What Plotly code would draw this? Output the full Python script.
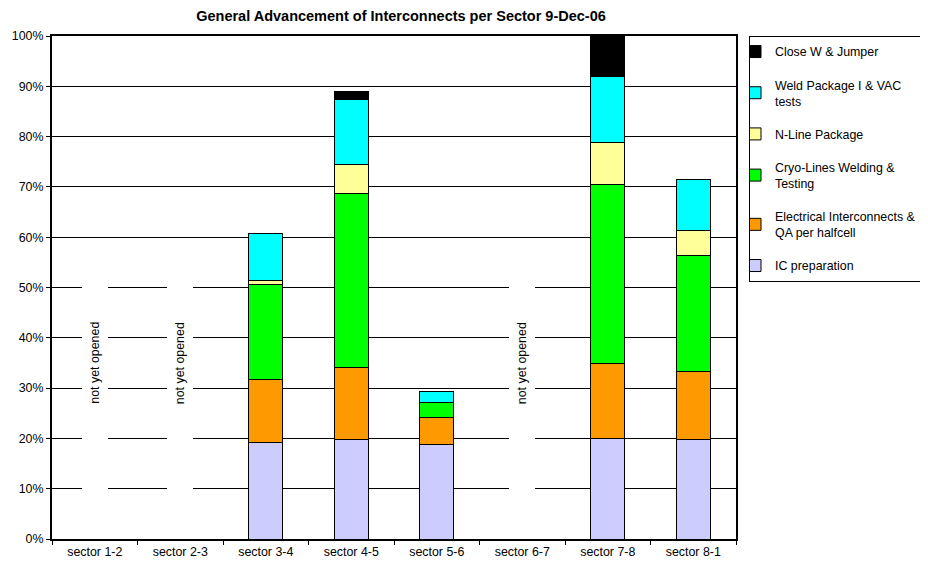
import plotly.graph_objects as go

sectors = ["sector 1-2", "sector 2-3", "sector 3-4", "sector 4-5",
           "sector 5-6", "sector 6-7", "sector 7-8", "sector 8-1"]

ic_prep = [None, None, 19.1, 19.7, 18.7, None, 19.9, 19.7]
elec_qa = [None, None, 12.7, 14.4, 5.4, None, 15.0, 13.7]
cryo = [None, None, 18.7, 34.6, 3.1, None, 35.6, 22.9]
nline = [None, None, 0.9, 5.8, None, None, 8.3, 5.0]
weld = [None, None, 9.3, 12.9, 2.1, None, 13.2, 10.1]
close_w = [None, None, None, 1.6, None, None, 8.0, None]

series_names = ["IC preparation", "Electrical Interconnects &<br>QA per halfcell",
                "Cryo-Lines Welding &<br>Testing", "N-Line Package",
                "Weld Package I & VAC<br>tests", "Close W & Jumper"]
series_colors = ["#CCCCFF", "#FF9900", "#00FF00", "#FFFF99", "#00FFFF", "#000000"]

not_opened = ["sector 1-2", "sector 2-3", "sector 6-7"]
note_text = "not yet opened"
mask_under = [8, 8, 8]
mask_height = [47, 47, 47]
note_level = 35

fig = go.Figure()

# white text boxes behind the "not yet opened" labels
fig.add_trace(go.Bar(x=not_opened, y=mask_under, width=0.3,
                     marker=dict(color="rgba(0,0,0,0)", line=dict(width=0)),
                     showlegend=False, hoverinfo="skip"))
fig.add_trace(go.Bar(x=not_opened, y=mask_height, width=0.3,
                     marker=dict(color="white", line=dict(width=0)),
                     showlegend=False, hoverinfo="skip"))

all_series = [ic_prep, elec_qa, cryo, nline, weld, close_w]
for i, (name, vals, col) in enumerate(zip(series_names, all_series, series_colors)):
    fig.add_trace(go.Bar(x=sectors, y=vals, name=name, width=0.4,
                         legendgroup=f"g{i}", legendrank=100 - i,
                         marker=dict(color=col, line=dict(color="black", width=1))))

FS = 12.4
for s in not_opened:
    fig.add_annotation(x=s, y=note_level, text=note_text, textangle=-90,
                       showarrow=False, font=dict(size=FS, color="black"))

font_family = "Liberation Sans, Arial, sans-serif"
W, H = 920, 555

fig.update_layout(
    width=W, height=H,
    barmode="stack",
    paper_bgcolor="white", plot_bgcolor="white",
    font=dict(family=font_family, size=FS, color="black"),
    margin=dict(l=44, r=192, t=28, b=24, autoexpand=False),
    title=dict(text="<b>General Advancement of Interconnects per Sector 9-Dec-06</b>",
               x=393 / W, xref="container", xanchor="center",
               y=1 - 7.5 / H, yref="container", yanchor="middle",
               font=dict(size=14.5, family=font_family)),
    legend=dict(x=(741 - 44) / 684, xanchor="left", y=1, yanchor="top",
                bordercolor="black", borderwidth=1, bgcolor="white",
                traceorder="grouped", tracegroupgap=14, indentation=-15,
                font=dict(size=FS)),
    showlegend=True,
)

fig.update_xaxes(type="category", categoryorder="array", categoryarray=sectors,
                 tickson="boundaries", ticks="outside", ticklen=4, tickcolor="black",
                 showline=True, linecolor="black", linewidth=2, mirror=True,
                 showgrid=False, tickfont=dict(size=FS))
fig.update_yaxes(range=[0, 100], dtick=10, ticksuffix="%",
                 ticks="outside", ticklen=4, tickcolor="black",
                 showline=True, linecolor="black", linewidth=2, mirror=True,
                 showgrid=True, gridcolor="black", gridwidth=1,
                 zeroline=False, tickfont=dict(size=FS))

fig.write_html("out.html")
